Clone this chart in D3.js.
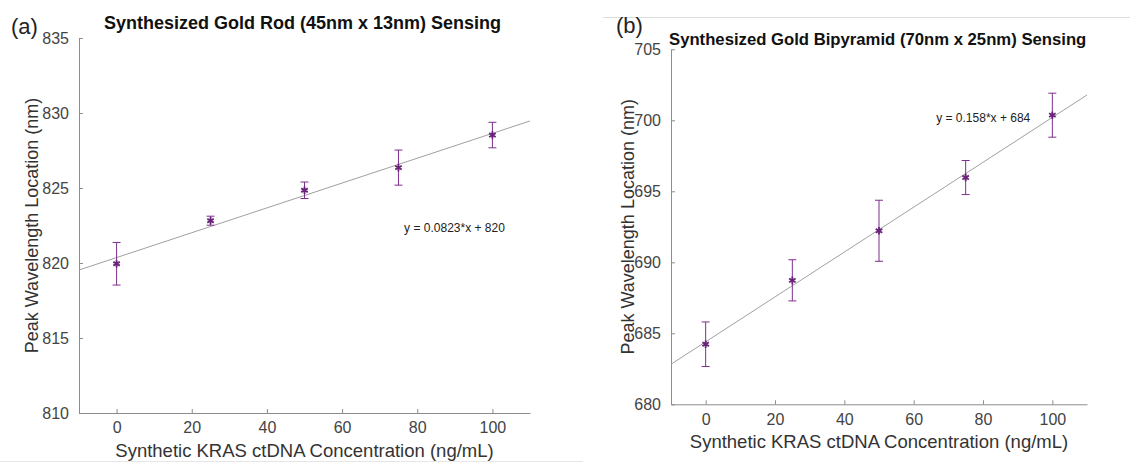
<!DOCTYPE html>
<html>
<head>
<meta charset="utf-8">
<script src="https://cdn.jsdelivr.net/npm/d3@7"></script>
<style>
  body { margin: 0; background: #fff; }
  svg { font-family: Helvetica, Arial, "Liberation Sans", sans-serif; }
  .tick text { fill: #444; font-size: 16px; }
  .axis path, .axis line { stroke: #8c8c8c; }
</style>
</head>
<body>
<div id="fig"></div>
<script>
// concentrations (ng/mL)
var concentration = [0, 25, 50, 75, 100];

// gold rod: peak location and std
var rodPeak = [819.95, 822.82, 824.85, 826.36, 828.53];
var rodErr  = [1.42, 0.30, 0.55, 1.17, 0.85];

// gold bipyramid
var bipyPeak = [684.23, 688.73, 692.22, 695.97, 700.36];
var bipyErr  = [1.57, 1.45, 2.15, 1.20, 1.55];

var xTicks = [0, 20, 40, 60, 80, 100];
var rodTicks = [810, 815, 820, 825, 830, 835];
var bipyTicks = [680, 685, 690, 695, 700, 705];

var titles = ['Synthesized Gold Rod (45nm x 13nm) Sensing',
              'Synthesized Gold Bipyramid (70nm x 25nm) Sensing'];
var panelLabels = ['(a)', '(b)'];
var equations = ['y = 0.0823*x + 820', 'y = 0.158*x + 684'];
var xTitle = 'Synthetic KRAS ctDNA Concentration (ng/mL)';
var yTitle = 'Peak Wavelength Location (nm)';

var purple = '#7e2f8e';

var svg = d3.select('#fig').append('svg')
    .attr('width', 1130)
    .attr('height', 464);

// faint figure separators
svg.append('line').attr('x1', 603).attr('x2', 1130).attr('y1', 17.5).attr('y2', 17.5)
    .attr('stroke', '#dcdcdc');
svg.append('line').attr('x1', 0).attr('x2', 583).attr('y1', 461.5).attr('y2', 461.5)
    .attr('stroke', '#e6e6e6');

function drawPanel(opt) {
    var x = d3.scaleLinear().domain([-10, 110]).range([opt.left, opt.right]);
    var y = d3.scaleLinear().domain(opt.yDomain).range([opt.bottom, opt.top]);
    var g = svg.append('g');

    var data = concentration.map(function(c, i) {
        return {x: c, y: opt.peak[i], e: opt.err[i]};
    });

    // axes, matlab style ticks pointing inward
    var xAxis = d3.axisBottom(x).tickValues(xTicks).tickSizeInner(-4).tickSizeOuter(0).tickPadding(9);
    var yAxis = d3.axisLeft(y).tickValues(opt.yTicks).tickSizeInner(-4).tickSizeOuter(0).tickPadding(10);

    g.append('g').attr('class', 'axis x')
        .attr('transform', 'translate(0,' + opt.bottom + ')')
        .call(xAxis);
    g.append('g').attr('class', 'axis y')
        .attr('transform', 'translate(' + opt.left + ',0)')
        .call(yAxis);
    g.selectAll('.axis .domain').attr('stroke', '#8c8c8c');

    // least squares fit
    var mx = d3.mean(data, function(d) { return d.x; });
    var my = d3.mean(data, function(d) { return d.y; });
    var sxy = d3.sum(data, function(d) { return (d.x - mx) * (d.y - my); });
    var sxx = d3.sum(data, function(d) { return (d.x - mx) * (d.x - mx); });
    var slope = sxy / sxx, icpt = my - slope * mx;

    g.append('line')
        .attr('x1', x(-10)).attr('y1', y(icpt + slope * -10))
        .attr('x2', x(110)).attr('y2', y(icpt + slope * 110))
        .attr('stroke', '#a0a0a0').attr('stroke-width', 1);

    // error bars
    var eb = g.selectAll('.eb').data(data).enter().append('g').attr('class', 'eb')
        .attr('stroke', purple).attr('stroke-width', 1).attr('fill', 'none');
    eb.append('line')
        .attr('x1', function(d) { return x(d.x); }).attr('x2', function(d) { return x(d.x); })
        .attr('y1', function(d) { return y(d.y - d.e); }).attr('y2', function(d) { return y(d.y + d.e); });
    eb.append('line')
        .attr('x1', function(d) { return x(d.x) - 4; }).attr('x2', function(d) { return x(d.x) + 4; })
        .attr('y1', function(d) { return y(d.y + d.e); }).attr('y2', function(d) { return y(d.y + d.e); });
    eb.append('line')
        .attr('x1', function(d) { return x(d.x) - 4; }).attr('x2', function(d) { return x(d.x) + 4; })
        .attr('y1', function(d) { return y(d.y - d.e); }).attr('y2', function(d) { return y(d.y - d.e); });

    // asterisk markers
    var sym = d3.symbol().type(d3.symbolAsterisk || d3.symbolCross).size(40);
    g.selectAll('.pt').data(data).enter().append('path')
        .attr('class', 'pt')
        .attr('d', sym)
        .attr('transform', function(d) { return 'translate(' + x(d.x) + ',' + y(d.y) + ')'; })
        .attr('stroke', '#6a2378').attr('stroke-width', 1.8).attr('fill', purple);

    // equation
    g.append('text')
        .attr('x', x(opt.eqAt[0])).attr('y', y(opt.eqAt[1]))
        .attr('font-size', 12).attr('fill', '#222')
        .text(opt.eq);

    // titles
    g.append('text')
        .attr('x', opt.titleX).attr('y', opt.titleY)
        .attr('font-size', opt.titleSize).attr('font-weight', 'bold').attr('fill', '#111')
        .text(opt.title);
    g.append('text')
        .attr('x', opt.tagX).attr('y', opt.tagY)
        .attr('font-size', 22).attr('fill', '#222')
        .text(opt.tag);

    g.append('text')
        .attr('x', (opt.left + opt.right) / 2).attr('y', opt.bottom + 44)
        .attr('text-anchor', 'middle').attr('font-size', 18.5).attr('fill', '#333')
        .text(xTitle);
    g.append('text')
        .attr('transform', 'translate(' + opt.yTitleX + ',' + (opt.top + opt.bottom) / 2 + ') rotate(-90)')
        .attr('text-anchor', 'middle').attr('font-size', 18).attr('fill', '#333')
        .text(yTitle);
}

drawPanel({
    left: 79, right: 530, top: 38, bottom: 413,
    yDomain: [810, 835], yTicks: rodTicks,
    peak: rodPeak, err: rodErr,
    eq: equations[0], eqAt: [76.5, 822.1],
    title: titles[0], titleX: 104, titleY: 29, titleSize: 18,
    tag: panelLabels[0], tagX: 11, tagY: 34,
    yTitleX: 38
});

drawPanel({
    left: 671, right: 1087, top: 49.3, bottom: 404.3,
    yDomain: [680, 705], yTicks: bipyTicks,
    peak: bipyPeak, err: bipyErr,
    eq: equations[1], eqAt: [66.5, 699.9],
    title: titles[1], titleX: 669, titleY: 45, titleSize: 16.7,
    tag: panelLabels[1], tagX: 616, tagY: 33,
    yTitleX: 634
});
</script>
</body>
</html>
